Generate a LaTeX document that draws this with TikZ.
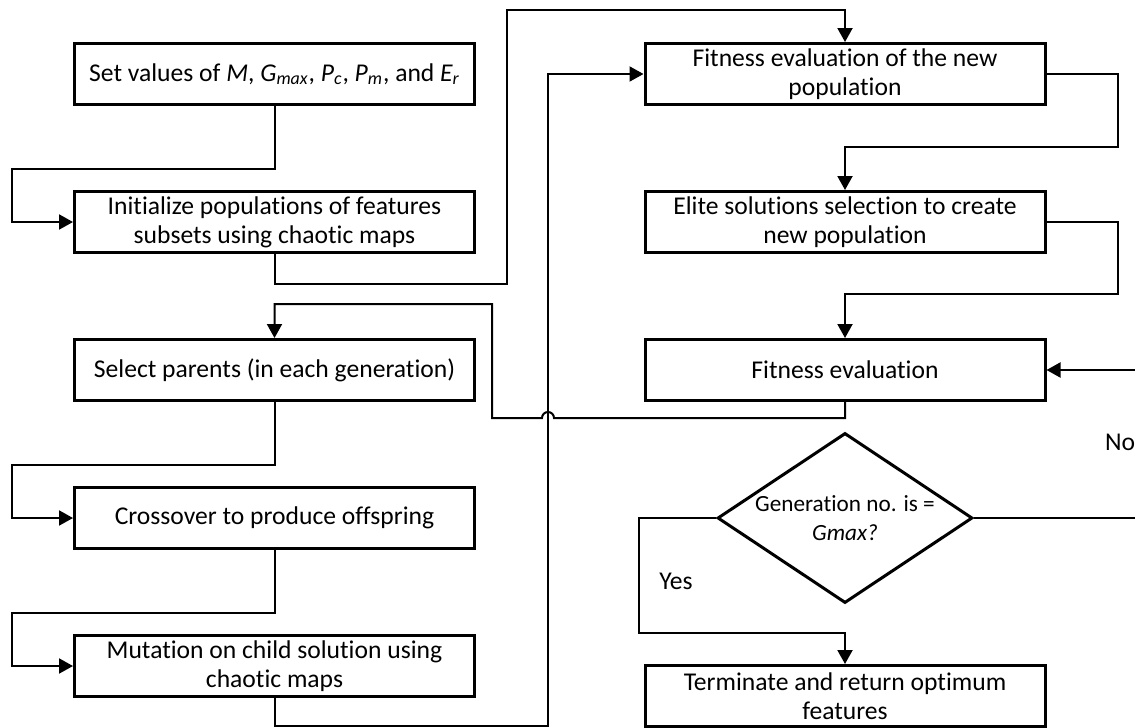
\documentclass[tikz,border=0pt]{standalone}
\usepackage{fontspec}
\setmainfont{Carlito}[Ligatures=NoCommon]
\usetikzlibrary{shapes.geometric,arrows.meta}
\tikzstyle{process} = [rectangle, minimum width=200pt, minimum height=30.5pt, inner sep=2pt, text centered, align=center, draw=black, line width=1.5pt, font=\fontsize{12.8}{14.6}\selectfont]
\tikzstyle{decision} = [diamond, aspect=1.5, minimum width=127.5pt, minimum height=85pt, inner sep=0pt, text centered, align=center, draw=black, line width=1.5pt, font=\fontsize{11.6}{14.5}\selectfont]
\tikzstyle{arrow} = [line width=1pt,-{Triangle[length=7pt,width=7.5pt]}]
\tikzstyle{lbl} = [font=\fontsize{12.8}{14.6}\selectfont]

\begin{document}
\begin{tikzpicture}[x=0.5pt, y=-0.5pt, node distance=74pt]
        \useasboundingbox (0,0) rectangle (1135,728);
        \clip (0,0) rectangle (1135,728);
        \node(setv) [process] at (274.5,74) {Set values of \textit{M}, \textit{G\textsubscript{max}}, \textit{P\textsubscript{c}}, \textit{P\textsubscript{m}}, and \textit{E\textsubscript{r}}};
        \node(init) [process, below of = setv] {Initialize populations of features\\subsets using chaotic maps};
        \node(select) [process, below of = init] {Select parents (in each generation)};
        \node(cross) [process, below of = select] {Crossover to produce offspring};
        \node(mut) [process, below of = cross] {Mutation on child solution using\\chaotic maps};
        \node(fitnew) [process] at (845,74) {Fitness evaluation of the new\\population};
        \node(elite) [process, below of = fitnew] {Elite solutions selection to create\\new population};
        \node(fiteval) [process, below of = elite] {Fitness evaluation};
        \node(decide) [decision, below of = fiteval] {Generation no. is =\\\textit{Gmax?}};
        \node(term) [process, below of = decide, yshift=-15pt] {Terminate and return optimum\\features};
        \node(yes) [lbl] at (676,581) {Yes};
        \node(no) [lbl] at (1120,442) {No};
        \draw [arrow] (setv.south) -- (274.5,169) -- (12,169) |- (init.west);
        \draw [arrow] (init.south) -- (274.5,284) -| (507,10) -| (fitnew.north);
        \draw [arrow] (mut.south) -- (274.5,726) -| (548,74) -- (fitnew.west);
        \draw [arrow] (fitnew.east) -| (1118,147) -| (elite.north);
        \draw [arrow] (elite.east) -| (1118,294) -| (fiteval.north);
        \draw [arrow] (fiteval.south) -- (845,418) -- (554,418) arc[start angle=0, end angle=180, radius=3pt] -- (492,418) -- (492,304) -| (select.north);
        \draw [arrow] (select.south) -- (274.5,465) -- (12,465) |- (cross.west);
        \draw [arrow] (cross.south) -- (274.5,613) -- (12,613) |- (mut.west);
        \draw [arrow] (decide.west) -| (639,633) -| (term.north);
        \draw [arrow] (decide.east) -| (1145,370) -- (fiteval.east);
    \end{tikzpicture}
\end{document}
